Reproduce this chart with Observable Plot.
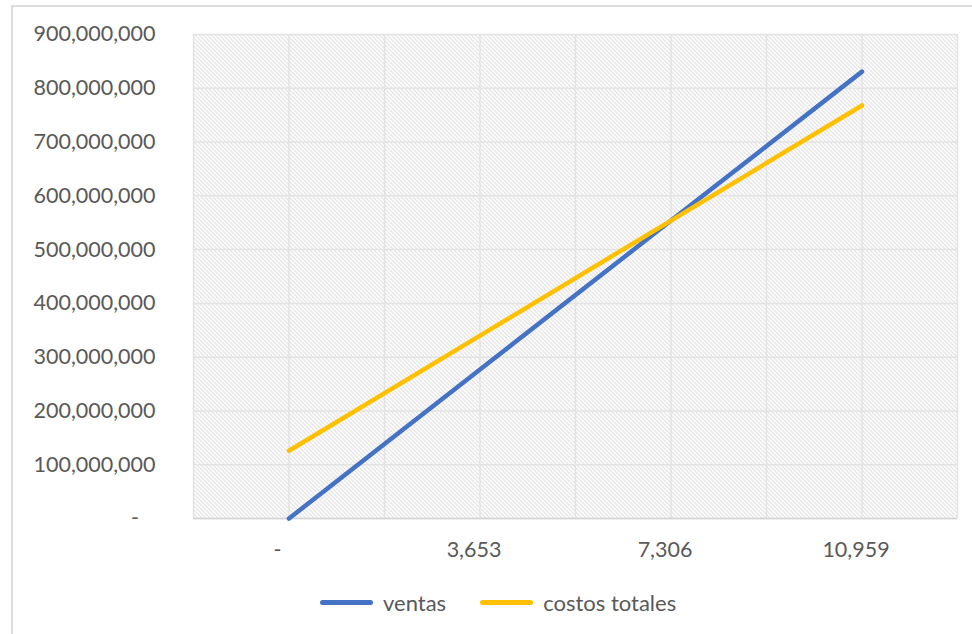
<!DOCTYPE html>
<html>
<head>
<meta charset="utf-8">
<script src="https://cdn.jsdelivr.net/npm/d3@7"></script>
<script src="https://cdn.jsdelivr.net/npm/@observablehq/plot@0.6"></script>
<style>
  html, body { margin: 0; padding: 0; background: #fff; overflow: hidden; }
  body { width: 972px; height: 634px; position: relative; font-family: Lato, "Noto Sans", sans-serif; }
  #border { position: absolute; left: 11px; top: 5px; width: 1000px; height: 700px; border: 2px solid #dcdcdc; box-sizing: border-box; pointer-events: none; z-index: 2; }
  #chart { position: absolute; left: 0; top: 0; z-index: 1; }
  #legend { position: absolute; left: 320px; top: 575px; height: 54px; display: flex; align-items: center; color: #595959; font-size: 22px; z-index: 1; }
  .item { display: flex; align-items: center; }
  .swatch { width: 53px; height: 5px; border-radius: 3px; margin-right: 10px; }
</style>
</head>
<body>
<div id="border"></div>
<div id="chart"></div>
<div id="legend"></div>
<script>
// Break-even chart: units sold vs. revenue and total cost
const unidades = ["-", "3,653", "7,306", "10,959"];
const ventas = [0, 277000000, 554000000, 831000000];
const costosTotales = [126000000, 340000000, 554000000, 768000000];
const series = ["ventas", "costos totales"];
const colores = ["#4472C4", "#FFC000"];
const yTicks = [0, 100000000, 200000000, 300000000, 400000000, 500000000, 600000000, 700000000, 800000000, 900000000];

const rows = [];
unidades.forEach((u, i) => {
  rows.push({i, serie: series[0], valor: ventas[i]});
  rows.push({i, serie: series[1], valor: costosTotales[i]});
});

const gris = "#595959";
const fmt = d3.format(",");

const chart = Plot.plot({
  width: 972,
  height: 575,
  marginLeft: 193,
  marginRight: 15,
  marginTop: 34,
  marginBottom: 57,
  style: {fontFamily: "Lato, 'Noto Sans', sans-serif", fontSize: "21.5px", color: gris, background: "transparent"},
  x: {type: "linear", domain: [-0.5, unidades.length - 0.5]},
  y: {domain: [0, 900000000]},
  color: {domain: series, range: colores},
  marks: [
    Plot.frame({fill: "url(#trama)", stroke: "none"}),
    Plot.ruleX(d3.range(-0.5, unidades.length, 0.5), {stroke: "#e3e3e3", strokeWidth: 1.5}),
    Plot.ruleY(yTicks, {stroke: "#e3e3e3", strokeWidth: 1.5}),
    Plot.ruleY([0], {stroke: "#d4d4d4", strokeWidth: 1.5}),
    Plot.axisY(yTicks, {
      tickSize: 0, tickPadding: 38, fill: gris,
      tickFormat: d => d === 0 ? "-\u00a0\u00a0\u00a0" : fmt(d),
      label: null
    }),
    Plot.axisX(d3.range(unidades.length), {
      tickSize: 0, tickPadding: 23, fill: gris, dx: -6,
      tickFormat: i => i === 0 ? "-\u00a0\u00a0" : unidades[i],
      label: null
    }),
    Plot.line(rows, {
      x: "i", y: "valor", z: "serie", stroke: "serie",
      strokeWidth: 4.5, strokeLinecap: "round", strokeLinejoin: "round"
    })
  ]
});

// diagonal hatch used as the plot-area fill
const svg = d3.select(chart.tagName.toLowerCase() === "svg" ? chart : chart.querySelector("svg"));
const defs = svg.insert("defs", ":first-child");
const pat = defs.append("pattern")
  .attr("id", "trama")
  .attr("patternUnits", "userSpaceOnUse")
  .attr("width", 4).attr("height", 4);
pat.append("rect").attr("width", 4).attr("height", 4).attr("fill", "white");
pat.append("path")
  .attr("d", "M-1,-1 L5,5 M-1,3 L1,5 M3,-1 L5,1")
  .attr("stroke", "#cdcdcd").attr("stroke-width", 1);

document.getElementById("chart").appendChild(chart);

// legend below the chart
const legend = d3.select("#legend");
series.forEach((s, k) => {
  const item = legend.append("div").attr("class", "item").style("margin-right", k === 0 ? "34px" : "0");
  item.append("div").attr("class", "swatch").style("background", colores[k]);
  item.append("span").text(s);
});
</script>
</body>
</html>
